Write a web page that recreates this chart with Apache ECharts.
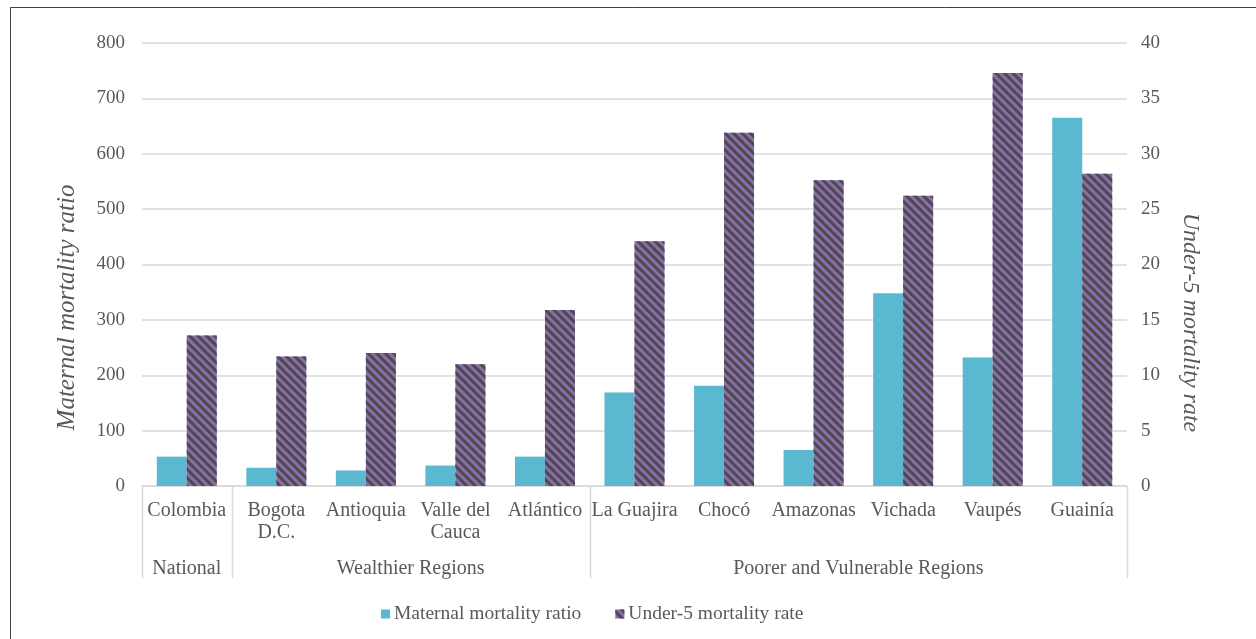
<!DOCTYPE html>
<html>
<head>
<meta charset="utf-8">
<title>Maternal and under-5 mortality in Colombia</title>
<script src="https://cdn.jsdelivr.net/npm/echarts@6/dist/echarts.min.js"></script>
<style>
  html, body { margin: 0; padding: 0; background: #ffffff; }
  #chart { width: 1256px; height: 639px; }
</style>
</head>
<body>
<div id="chart"></div>
<script>
// Regions shown on the category axis (line breaks as printed)
const regions = ['Colombia', 'Bogota\nD.C.', 'Antioquia', 'Valle del\nCauca', 'Atlántico',
  'La Guajira', 'Chocó', 'Amazonas', 'Vichada', 'Vaupés', 'Guainía'];

// Maternal mortality ratio (left axis)
const maternalRatio = [53, 33, 28, 37, 53, 169, 181, 65, 348, 232, 665];

// Under-5 mortality rate (right axis)
const under5Rate = [13.6, 11.7, 12.0, 11.0, 15.9, 22.1, 31.9, 27.6, 26.2, 37.3, 28.2];

// Region groups: label, first and last category index
const groupNames = ['National', 'Wealthier Regions', 'Poorer and Vulnerable Regions'];
const groupFirst = [0, 1, 5];
const groupLast = [0, 4, 10];

// Axis ticks
const leftTicks = [0, 100, 200, 300, 400, 500, 600, 700, 800];
const rightTicks = [0, 5, 10, 15, 20, 25, 30, 35, 40];

const seriesNames = ['Maternal mortality ratio', 'Under-5 mortality rate'];

const TEXT = '#595959';
const GRID_LINE = '#d9d9d9';
const FONT = '"Liberation Serif", "DejaVu Serif", serif';

const chart = echarts.init(document.getElementById('chart'), null, { renderer: 'canvas' });

const option = {
  backgroundColor: '#ffffff',
  animation: false,
  textStyle: { fontFamily: FONT, color: TEXT },
  grid: { left: 142, right: 129, top: 43, bottom: 153, containLabel: false },
  legend: {
    left: 376,
    top: 599,
    itemWidth: 9,
    itemHeight: 9,
    itemGap: 34,
    icon: 'rect',
    textStyle: { fontFamily: FONT, fontSize: 19.5, color: TEXT, padding: [0, 0, 0, -1] },
    data: seriesNames
  },
  xAxis: {
    type: 'category',
    data: regions,
    axisLine: { show: true, lineStyle: { color: GRID_LINE, width: 1.5 } },
    axisTick: { show: false },
    axisLabel: {
      interval: 0,
      margin: 14,
      fontFamily: FONT,
      fontSize: 20,
      lineHeight: 22,
      color: TEXT
    },
    splitLine: { show: false }
  },
  yAxis: [
    {
      type: 'value',
      min: leftTicks[0],
      max: leftTicks[leftTicks.length - 1],
      interval: leftTicks[1] - leftTicks[0],
      axisLine: { show: false },
      axisTick: { show: false },
      axisLabel: { margin: 17, fontFamily: FONT, fontSize: 19, color: TEXT },
      splitLine: { show: true, lineStyle: { color: GRID_LINE, width: 1.5 } }
    },
    {
      type: 'value',
      min: rightTicks[0],
      max: rightTicks[rightTicks.length - 1],
      interval: rightTicks[1] - rightTicks[0],
      position: 'right',
      axisLine: { show: false },
      axisTick: { show: false },
      axisLabel: { margin: 14, fontFamily: FONT, fontSize: 19, color: TEXT },
      splitLine: { show: false }
    }
  ],
  series: [
    {
      name: seriesNames[0],
      type: 'bar',
      yAxisIndex: 0,
      data: maternalRatio,
      barGap: '0%',
      barCategoryGap: '33%',
      itemStyle: { color: '#5bb8d1' }
    },
    {
      name: seriesNames[1],
      type: 'bar',
      yAxisIndex: 1,
      data: under5Rate,
      barGap: '0%',
      barCategoryGap: '33%',
      itemStyle: {
        color: '#8a6bab',
        decal: {
          symbol: 'rect',
          symbolSize: 1,
          color: '#4b4b4b',
          dashArrayX: [1, 0],
          dashArrayY: [2.1, 2.1],
          rotation: Math.PI / 4
        }
      }
    }
  ]
};

chart.setOption(option);

// Group separators, group labels, axis titles and frame
function drawDecorations() {
  const c0 = chart.convertToPixel({ xAxisIndex: 0 }, regions[0]);
  const c1 = chart.convertToPixel({ xAxisIndex: 0 }, regions[1]);
  const band = c1 - c0;
  const axisY = chart.convertToPixel({ yAxisIndex: 0 }, 0);
  const topY = chart.convertToPixel({ yAxisIndex: 0 }, leftTicks[leftTicks.length - 1]);
  const sepLen = 92;
  const elements = [];

  const boundaries = new Set();
  groupFirst.forEach((f, i) => {
    const left = chart.convertToPixel({ xAxisIndex: 0 }, regions[f]) - band / 2;
    const right = chart.convertToPixel({ xAxisIndex: 0 }, regions[groupLast[i]]) + band / 2;
    boundaries.add(Math.round(left));
    boundaries.add(Math.round(right));
    elements.push({
      type: 'text',
      silent: true,
      x: (left + right) / 2,
      y: axisY + 83,
      style: {
        text: groupNames[i],
        fill: TEXT,
        font: '20px ' + FONT,
        align: 'center',
        verticalAlign: 'middle'
      }
    });
  });
  boundaries.forEach(x => {
    elements.push({
      type: 'line',
      silent: true,
      shape: { x1: x + 0.5, y1: axisY, x2: x + 0.5, y2: axisY + sepLen },
      style: { stroke: GRID_LINE, lineWidth: 1.5 }
    });
  });

  const midY = (axisY + topY) / 2;
  elements.push({
    type: 'text',
    silent: true,
    x: 67,
    y: midY + 43,
    rotation: Math.PI / 2,
    style: {
      text: 'Maternal mortality ratio',
      fill: TEXT,
      font: 'italic 25px ' + FONT,
      align: 'center',
      verticalAlign: 'middle'
    }
  });
  elements.push({
    type: 'text',
    silent: true,
    x: 1190,
    y: midY + 58,
    rotation: -Math.PI / 2,
    style: {
      text: 'Under-5 mortality rate',
      fill: TEXT,
      font: 'italic 24px ' + FONT,
      align: 'center',
      verticalAlign: 'middle'
    }
  });
  elements.push({
    type: 'rect',
    silent: true,
    shape: { x: 10.5, y: 7.5, width: 1400, height: 800 },
    style: { fill: 'none', stroke: '#404040', lineWidth: 1 }
  });

  chart.setOption({ graphic: { elements: elements } });
}

drawDecorations();
</script>
</body>
</html>
